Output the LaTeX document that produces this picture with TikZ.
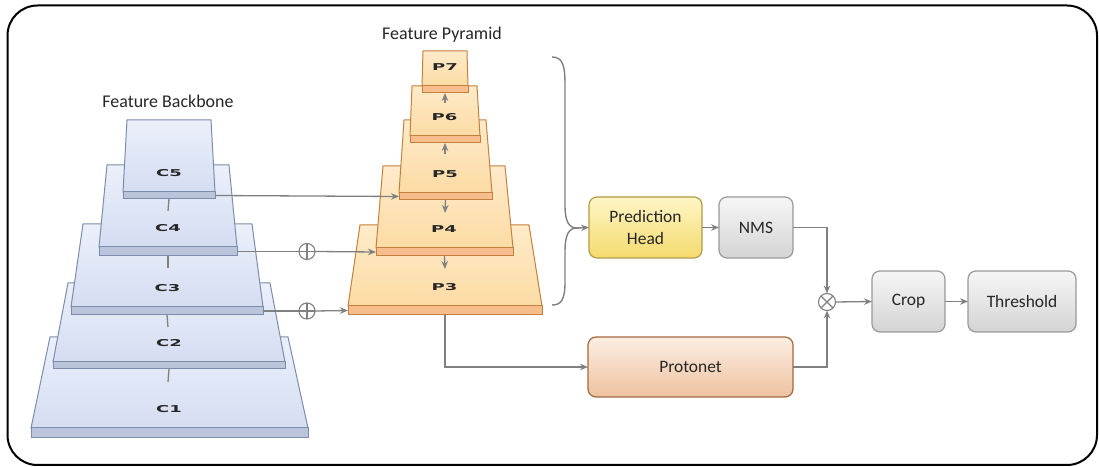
\documentclass[tikz,border=0pt]{standalone}
\usepackage{fontspec}
\setmainfont{Carlito}
\newfontfamily\slabfont{DejaVu Sans}
\usetikzlibrary{arrows.meta}

\definecolor{lineg}{HTML}{808080}
\definecolor{txt}{HTML}{262626}
\definecolor{bbfacea}{HTML}{EBF0FA}
\definecolor{bbfaceb}{HTML}{D4DDF1}
\definecolor{bbedge}{HTML}{7D8CAB}
\definecolor{bbstripc}{HTML}{BAC4DB}
\definecolor{fpfacea}{HTML}{FEEBCA}
\definecolor{fpfaceb}{HTML}{FCDBA4}
\definecolor{fpedge}{HTML}{C4803F}
\definecolor{fpstripc}{HTML}{F7BD8D}
\definecolor{pha}{HTML}{FFF6C6}
\definecolor{phb}{HTML}{F4DA6E}
\definecolor{phedge}{HTML}{B29B45}
\definecolor{gra}{HTML}{F6F6F6}
\definecolor{grb}{HTML}{D4D4D4}
\definecolor{gredge}{HTML}{999999}
\definecolor{pna}{HTML}{FCEEE3}
\definecolor{pnb}{HTML}{EEC29F}
\definecolor{pnedge}{HTML}{A2683F}

% one slab of a pyramid: sloped face plus a thin edge strip under it
% #1 name/label, #2 top y, #3 top left x, #4 top right x,
% #5 face bottom y, #6 bottom left x, #7 bottom right x, #8 strip bottom y, #9 style family
\newcommand{\drawslab}[9]{%
  \path[#9face] (#3,#2) -- (#4,#2) -- (#7,#5) -- (#6,#5) -- cycle;
  \path[#9strip] (#6,#5) rectangle (#7,#8);
  \coordinate (#1-w) at (#6,{(#5+#8)/2});
  \coordinate (#1-e) at (#7,{(#5+#8)/2});
  \coordinate (#1-s) at ({(#6+#7)/2},#8);
  \node[slablabel] (#1) at ({(#3+#4)/2},{#5-19}) {\scalebox{1.9}[1]{#1}};
}

\begin{document}
\begin{tikzpicture}[x=1bp,y=-1bp,
  conn/.style={draw=lineg, line width=1.3bp},
  arr/.style={conn, -{Stealth[length=8bp,width=6.5bp]}},
  bbface/.style={draw=bbedge, line width=1bp, top color=bbfacea, bottom color=bbfaceb},
  bbstrip/.style={draw=bbedge, line width=1bp, fill=bbstripc},
  fpface/.style={draw=fpedge, line width=1bp, top color=fpfacea, bottom color=fpfaceb},
  fpstrip/.style={draw=fpedge, line width=1bp, fill=fpstripc},
  slablabel/.style={inner sep=0pt, text=txt,
    font=\slabfont\bfseries\fontsize{9.5}{11}\selectfont},
  title/.style={inner sep=0pt, text=txt, font=\fontsize{18}{20}\selectfont},
  box/.style={rounded corners=8bp, line width=1.2bp, inner sep=0pt, outer sep=0pt,
    minimum height=61bp, text=txt, align=center,
    font=\fontsize{17.5}{22}\selectfont},
  graybox/.style={box, draw=gredge, top color=gra, bottom color=grb},
  opnode/.style={circle, draw=lineg, line width=1.1bp, fill=white,
    minimum size=16bp, inner sep=0pt, outer sep=0pt}
]
\useasboundingbox (0,0) rectangle (1099,467);

% outer frame
\draw[line width=2bp, rounded corners=30bp] (7.5,5.5) rectangle (1097,465);

% titles
\node[title] (tbb) at (168,101) {Feature Backbone};
\node[title] (tfp) at (442,35) {Feature Pyramid};

% backbone, largest slab first
\drawslab{C1}{337}{50}{288}{428}{31}{308}{438}{bb}
\drawslab{C2}{283}{68}{270}{362}{53}{285}{369}{bb}
\drawslab{C3}{224}{83}{252}{307}{71}{263}{315}{bb}
\drawslab{C4}{165}{107}{229}{247}{99}{237}{256}{bb}
\drawslab{C5}{120}{127}{211}{192}{123}{215}{199}{bb}

% feature pyramid, largest slab first
\drawslab{P3}{225}{360}{529}{306}{348}{542}{315}{fp}
\drawslab{P4}{166}{383}{505}{248}{376}{513}{256}{fp}
\drawslab{P5}{120}{404}{486}{193}{399}{492}{200}{fp}
\drawslab{P6}{86}{412}{477}{136}{410}{480}{143}{fp}
\drawslab{P7}{51}{423}{467}{86}{422}{468}{93}{fp}

% short ticks between backbone stages
\coordinate (k4) at (168,211);
\coordinate (k3) at (168,268);
\coordinate (k2) at (168,327);
\coordinate (k1) at (168,382);
\draw[conn] (C5-s) -- (k4);
\draw[conn] (C4-s) -- (k3);
\draw[conn] (C3-s) -- (k2);
\draw[conn] (C2-s) -- (k1);

% arrows inside the pyramid
\coordinate (u6) at (445,103);
\coordinate (u5) at (445,154);
\coordinate (d4) at (445,213);
\coordinate (d3) at (445,269);
\draw[arr] (u6) -- (P7-s);
\draw[arr] (u5) -- (P6-s);
\draw[arr] (P5-s) -- (d4);
\draw[arr] (P4-s) -- (d3);

% lateral connections
\node[opnode] (o4) at (307,251.5) {};
\node[opnode] (o3) at (307,311) {};
\draw[arr] (C5-e) -- (P5-w);
\draw[conn] (C4-e) -- (o4.west);
\draw[arr] (o4.east) -- (P4-w);
\draw[conn] (C3-e) -- (o3.west);
\draw[arr] (o3.east) -- (P3-w);
\foreach \o in {o4,o3} {
  \draw[conn, line width=1.1bp] (\o.north) -- (\o.south);
  \draw[conn, line width=1.1bp] (\o.west) -- (\o.east);
}

% heads
\node[box, draw=phedge, top color=pha, bottom color=phb, minimum width=113bp]
  (ph) at (645.5,227.5) {Prediction\\Head};
\node[graybox, minimum width=74bp] (nms) at (756,227.5) {NMS};
\node[box, draw=pnedge, top color=pna, bottom color=pnb, minimum width=205bp, minimum height=60bp]
  (proto) at (690.5,367) {Protonet};
\node[graybox, minimum width=73bp] (crop) at (908.5,301.5) {Crop};
\node[graybox, minimum width=108bp] (thr) at (1022,301.5) {Threshold};
\node[opnode, minimum size=17bp] (ot) at (827,302) {};
\draw[conn, line width=1.1bp] (ot.north west) -- (ot.south east);
\draw[conn, line width=1.1bp] (ot.north east) -- (ot.south west);

% brace gathering the pyramid levels
\coordinate (bt) at (577,228);
\draw[conn, line width=1.4bp] (552,57) .. controls (563,57) and (565,66) .. (565,85)
  -- (565,205) .. controls (565,222) and (569,228) .. (bt)
  .. controls (569,228) and (565,234) .. (565,252)
  -- (565,282) .. controls (565,300) and (561,305) .. (552,305);

% flow
\draw[arr] (bt) -- (ph.west);
\draw[arr] (ph) -- (nms);
\draw[arr] (nms.east) -| (ot.north);
\draw[arr] (proto.east) -| (ot.south);
\draw[arr] (P3-s) |- (proto.west);
\draw[arr] (ot.east) -- (crop.west);
\draw[arr] (crop) -- (thr);
\end{tikzpicture}
\end{document}
